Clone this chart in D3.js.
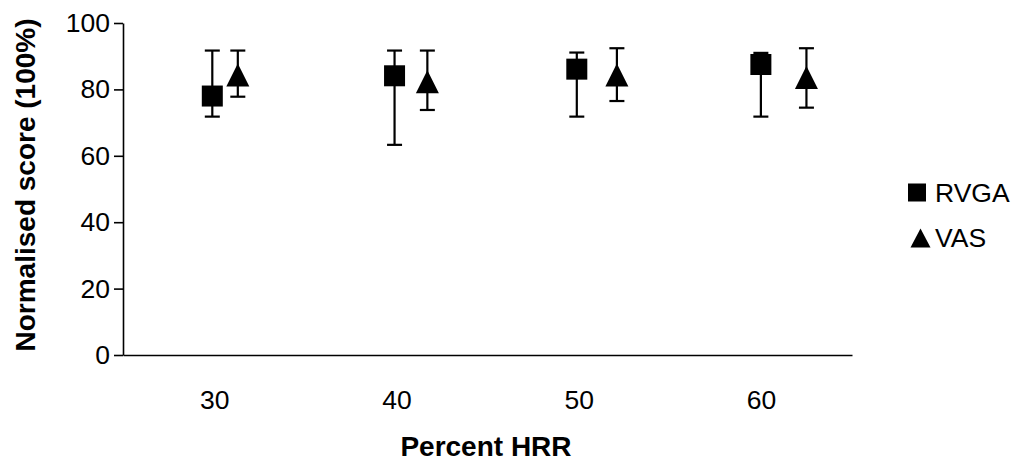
<!DOCTYPE html>
<html>
<head>
<meta charset="utf-8">
<script src="https://cdn.jsdelivr.net/npm/d3@7"></script>
<style>
  body { margin: 0; background: #fff; }
  svg { display: block; }
  svg text { font-family: "Liberation Sans", Arial, sans-serif; fill: #000; }
</style>
</head>
<body>
<script>
// data
var categories = [30, 40, 50, 60];
var rvgaX = [29.9, 39.9, 49.9, 60.0];
var rvgaMean = [78.0, 84.1, 86.1, 87.5];
var rvgaHigh = [91.7, 91.7, 91.1, 91.0];
var rvgaLow = [71.8, 63.3, 71.8, 71.8];
var vasX = [31.3, 41.7, 52.1, 62.5];
var vasMean = [84.3, 82.3, 84.3, 83.6];
var vasHigh = [91.7, 91.7, 92.4, 92.4];
var vasLow = [77.8, 73.8, 76.5, 74.5];
var yTicks = [0, 20, 40, 60, 80, 100];

var width = 1017, height = 462;

var svg = d3.select("body").append("svg")
    .attr("width", width)
    .attr("height", height);

var x = d3.scaleLinear().domain([25, 65]).range([123, 852]);
var y = d3.scaleLinear().domain([0, 100]).range([355, 23]);

// y axis
var yAxis = svg.append("g")
    .attr("transform", "translate(" + x.range()[0] + ",0)")
    .call(d3.axisLeft(y).tickValues(yTicks).tickSize(9).tickSizeOuter(0).tickPadding(4));
yAxis.select(".domain").attr("stroke-width", 1.6);
yAxis.selectAll(".tick line").attr("stroke-width", 1.6);
yAxis.selectAll(".tick text")
    .style("font-size", "26.5px");

// x axis (labels only, no tick marks)
var xAxis = svg.append("g")
    .attr("transform", "translate(0," + y(0) + ")")
    .call(d3.axisBottom(x).tickValues(categories).tickSize(0).tickSizeOuter(0).tickPadding(35));
xAxis.select(".domain").attr("stroke-width", 1.6);
xAxis.selectAll(".tick text")
    .style("font-size", "26.5px");

// axis titles
svg.append("text")
    .attr("transform", "translate(35," + 185 + ") rotate(-90)")
    .attr("text-anchor", "middle")
    .style("font-size", "28px")
    .style("font-weight", "bold")
    .text("Normalised score (100%)");

svg.append("text")
    .attr("x", 486)
    .attr("y", 456)
    .attr("text-anchor", "middle")
    .style("font-size", "28px")
    .style("font-weight", "bold")
    .text("Percent HRR");

// build series rows
function rows(xs, mean, hi, lo) {
    return xs.map(function (d, i) {
        return { x: d, mean: mean[i], hi: hi[i], lo: lo[i] };
    });
}
var rvga = rows(rvgaX, rvgaMean, rvgaHigh, rvgaLow);
var vas = rows(vasX, vasMean, vasHigh, vasLow);

var capW = 15;

function errorBars(data) {
    var g = svg.append("g").attr("stroke", "#000").attr("stroke-width", 2.2);
    g.selectAll(".stem").data(data).enter().append("line")
        .attr("x1", function (d) { return x(d.x); })
        .attr("x2", function (d) { return x(d.x); })
        .attr("y1", function (d) { return y(d.hi); })
        .attr("y2", function (d) { return y(d.lo); });
    g.selectAll(".caphi").data(data).enter().append("line")
        .attr("x1", function (d) { return x(d.x) - capW / 2; })
        .attr("x2", function (d) { return x(d.x) + capW / 2; })
        .attr("y1", function (d) { return y(d.hi); })
        .attr("y2", function (d) { return y(d.hi); });
    g.selectAll(".caplo").data(data).enter().append("line")
        .attr("x1", function (d) { return x(d.x) - capW / 2; })
        .attr("x2", function (d) { return x(d.x) + capW / 2; })
        .attr("y1", function (d) { return y(d.lo); })
        .attr("y2", function (d) { return y(d.lo); });
}
errorBars(rvga);
errorBars(vas);

// triangle with its bounding box centred on the point
function triPath(w, h) {
    return "M0," + (-h / 2) + "L" + (w / 2) + "," + (h / 2) + "L" + (-w / 2) + "," + (h / 2) + "Z";
}

var sq = 21;
svg.append("g").selectAll("rect").data(rvga).enter().append("rect")
    .attr("x", function (d) { return x(d.x) - sq / 2; })
    .attr("y", function (d) { return y(d.mean) - sq / 2; })
    .attr("width", sq)
    .attr("height", sq)
    .attr("fill", "#000");

svg.append("g").selectAll("path").data(vas).enter().append("path")
    .attr("transform", function (d) { return "translate(" + x(d.x) + "," + y(d.mean) + ")"; })
    .attr("d", triPath(23, 23))
    .attr("fill", "#000");

// legend
var legend = svg.append("g");
legend.append("rect")
    .attr("x", 908).attr("y", 183.5)
    .attr("width", 18).attr("height", 18)
    .attr("fill", "#000");
legend.append("text")
    .attr("x", 935).attr("y", 201.5)
    .style("font-size", "26.5px")
    .text("RVGA");
legend.append("path")
    .attr("transform", "translate(920.5,238)")
    .attr("d", triPath(20, 19))
    .attr("fill", "#000");
legend.append("text")
    .attr("x", 935).attr("y", 247)
    .style("font-size", "26.5px")
    .text("VAS");
</script>
</body>
</html>
